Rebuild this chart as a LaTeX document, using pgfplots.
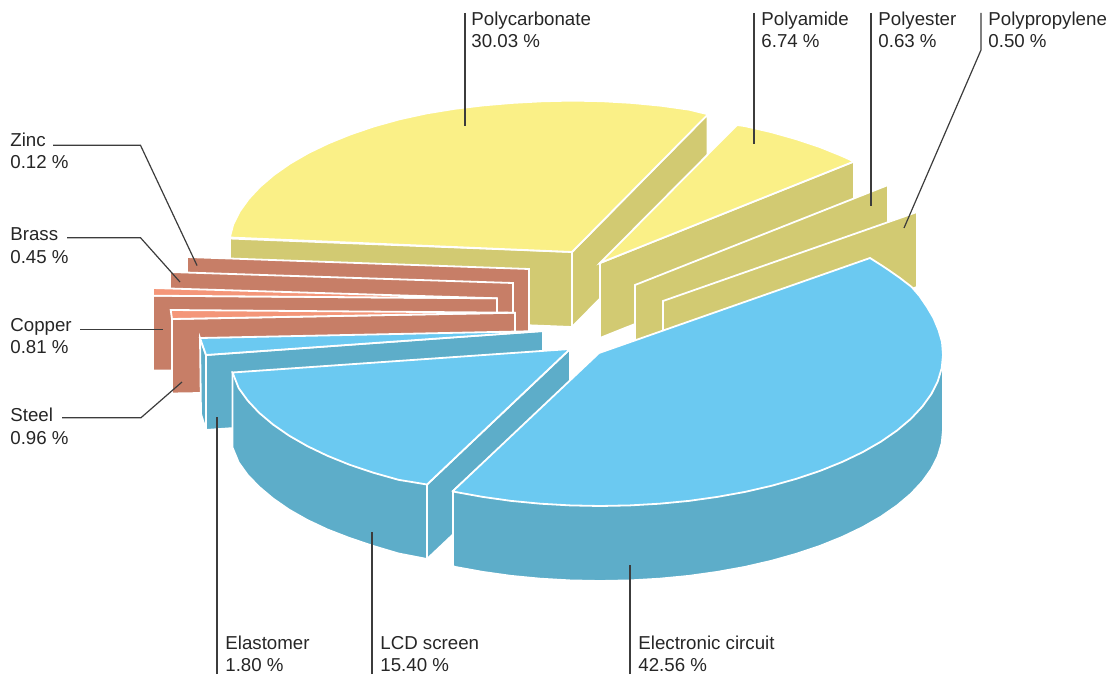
\documentclass[border=0pt]{standalone}
\usepackage{pgfplots}
\pgfplotsset{compat=1.18}
\usepackage{fontspec}
\setmainfont{Liberation Sans}
\definecolor{ytop}{RGB}{250,240,135}
\definecolor{yside}{RGB}{210,202,114}
\definecolor{btop}{RGB}{107,201,241}
\definecolor{bside}{RGB}{93,173,201}
\definecolor{cside}{RGB}{199,126,103}
\definecolor{ctop}{RGB}{244,150,121}
\definecolor{leader}{RGB}{60,60,60}
\tikzset{
  slab/.style={fill=#1,draw=white,line width=0.9pt,line join=miter},
  lead/.style={draw=leader,line width=0.6pt,line join=miter},
  lab/.style={anchor=base west,inner sep=0pt,font=\fontsize{9.35}{11}\selectfont,text=black!85}
}
\newcommand{\lab}[4]{%
  \node[lab] at (axis cs:#1,#2) {#3};
  \node[lab] at (axis cs:#1,#2+22.5) {#4};}
\begin{document}
\begin{tikzpicture}
\begin{axis}[
  scale only axis,width=556pt,height=337pt,
  xmin=0,xmax=1112,ymin=0,ymax=674,y dir=reverse,
  hide axis,clip=false]
\path[use as bounding box] (axis cs:0,0) rectangle (axis cs:1112,674);

% Polycarbonate
\addplot[slab=yside] coordinates {(572,252)(707.5,114.5)(707.5,189.5)(572,327)} --cycle;
\addplot[slab=yside] coordinates {(230,238.5)(230,313.5)(572,327)(572,252)} --cycle;
\addplot[slab=ytop] coordinates {(229.8,237.5)(233.2,224.5)(239.7,211.4)(248.7,198.9)(260.1,186.7)(274,174.8)(290,163.6)(308.3,153)(328.5,143.3)(350.5,134.4)(374.3,126.3)(399.5,119.3)(426.5,113.4)(454.7,108.8)(483.2,105.4)(512.5,102.9)(542.1,101.3)(572,100.6)(601.9,101.2)(631.5,102.9)(660.8,105.7)(689.3,109.7)(708,114.3)(572,252)} --cycle;

% Polyamide
\addplot[slab=yside] coordinates {(600,263)(854,161.5)(854,236.5)(600,338)} --cycle;
\addplot[slab=ytop] coordinates {(600,263)(737,125)(745,126.1)(771.5,132.2)(796.7,139.3)(820.5,147.3)(842.5,156.2)(854,161.5)} --cycle;

% Polyester
\addplot[slab=yside] coordinates {(635,285)(888,185)(888,260)(635,360)} --cycle;

% Polypropylene
\addplot[slab=yside] coordinates {(663,301)(917,212)(917,287)(663,376)} --cycle;

% Zinc
\addplot[slab=cside] coordinates {(187,257)(529,269)(529,344)(187,332)} --cycle;
% Brass
\addplot[slab=cside] coordinates {(170,272)(513,283)(513,358)(170,347)} --cycle;
% Copper
\addplot[slab=cside] coordinates {(153,295.7)(497,298.3)(497,373.3)(153,370.5)} --cycle;
\addplot[slab=ctop] coordinates {(153,288)(153,295.7)(497,298.3)} --cycle;
% Steel
\addplot[slab=cside] coordinates {(172,319)(515,312.7)(515,387.7)(172,393.5)} --cycle;
\addplot[slab=ctop] coordinates {(170.7,310)(172,319)(515,312.7)} --cycle;

% Elastomer
\addplot[slab=bside] coordinates {(200,338)(206,355)(206,430)(201,414)} --cycle;
\addplot[slab=bside] coordinates {(206,355)(543,331)(543,406)(206,430)} --cycle;
\addplot[slab=btop] coordinates {(200,338)(206,355)(543,331)} --cycle;

% LCD screen
\addplot[slab=bside] coordinates {(427,484.5)(570,349)(570,424)(427,559)} --cycle;
\addplot[slab=bside] coordinates {(232.5,372.5)(232.5,447.5)(238.7,462.5)(247.7,475)(259.1,486.8)(273,498.5)(289,509.6)(307.3,520)(327.5,529.5)(349.5,538)(373.3,546)(398.5,553.5)(427,559)(427,484.5)} --cycle;
\addplot[slab=btop] coordinates {(570,349)(232.5,372.5)(238.7,388.1)(247.7,400.6)(259.1,412.8)(273,424.5)(289,435.6)(307.3,446.1)(327.5,455.8)(349.5,464.7)(373.3,472.7)(398.5,479.8)(427,484.5)} --cycle;

% Electronic circuit
\addplot[slab=bside] coordinates {(943,355)(943,430)(941.7,443.2)(937.8,456.2)(931.3,469.1)(922.3,481.6)(910.9,493.8)(897,505.5)(881,516.6)(862.7,527.1)(842.5,536.8)(820.5,545.7)(796.7,553.7)(771.5,560.8)(745,566.9)(717.3,571.9)(688.8,575.9)(659.5,578.7)(629.9,580.4)(600,581)(570.1,580.4)(540.5,578.7)(511.2,575.9)(482.7,571.9)(455,566.9)(453,566)(453,491)(600,355)} --cycle;
\addplot[slab=btop] coordinates {(870,258)(881,265)(890,271)(900,278)(911.7,287)(919.5,296)(927,307)(933.5,318)(938.5,330)(942,342)(943,355)(941.7,368.2)(937.8,381.2)(931.3,394.1)(922.3,406.6)(910.9,418.8)(897,430.5)(881,441.6)(862.7,452.1)(842.5,461.8)(820.5,470.7)(796.7,478.7)(771.5,485.8)(745,491.9)(717.3,496.9)(688.8,500.9)(659.5,503.7)(629.9,505.4)(600,506)(570.1,505.4)(540.5,503.7)(511.2,500.9)(482.7,496.9)(455,491.9)(453,491)(599,353)} --cycle;

% Leader lines
\addplot[lead] coordinates {(465,13)(465,126)};
\addplot[lead] coordinates {(754,13)(754,144)};
\addplot[lead] coordinates {(871,13)(871,206)};
\addplot[lead] coordinates {(981,13)(981,50)(904,228)};
\addplot[lead] coordinates {(53,145.3)(140.5,145.3)(197,265.5)};
\addplot[lead] coordinates {(67,237.7)(140.5,237.7)(180,282)};
\addplot[lead] coordinates {(80,329.7)(162.5,329.7)};
\addplot[lead] coordinates {(62,417.7)(141,417.7)(182,382)};
\addplot[lead] coordinates {(217,674)(217,417)};
\addplot[lead] coordinates {(372,674)(372,532)};
\addplot[lead] coordinates {(630,674)(630,565)};

% Labels
\lab{471}{25.5}{Polycarbonate}{30.03 \%}
\lab{761}{25.5}{Polyamide}{6.74 \%}
\lab{878}{25.5}{Polyester}{0.63 \%}
\lab{988}{25.5}{Polypropylene}{0.50 \%}
\lab{10}{146}{Zinc}{0.12 \%}
\lab{10}{240.7}{Brass}{0.45 \%}
\lab{10}{331}{Copper}{0.81 \%}
\lab{10}{421.5}{Steel}{0.96 \%}
\lab{225}{649.3}{Elastomer}{1.80 \%}
\lab{380}{649.3}{LCD screen}{15.40 \%}
\lab{638}{649.3}{Electronic circuit}{42.56 \%}
\end{axis}
\end{tikzpicture}
\end{document}
